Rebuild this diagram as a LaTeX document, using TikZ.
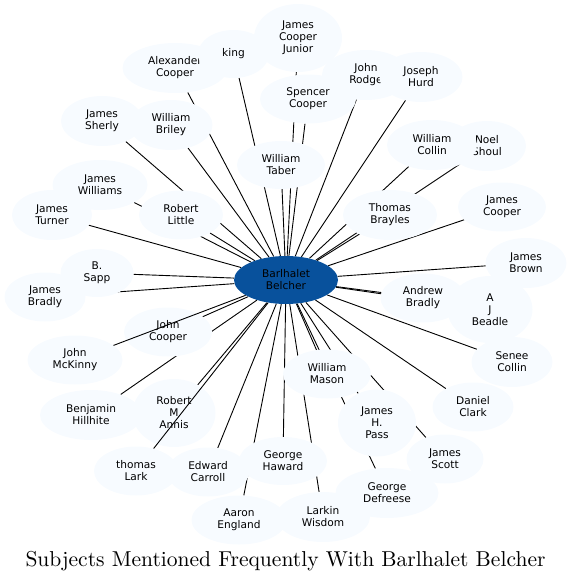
\documentclass[tikz,border=0pt]{standalone}
\usepackage{fontspec}
\newfontfamily\dvs{DejaVu Sans}
\usetikzlibrary{shapes.geometric}
\pgfdeclarelayer{background}
\pgfsetlayers{background,main}
\definecolor{paleb}{HTML}{F7FBFF}
\definecolor{darkb}{HTML}{08519C}
\begin{document}
\begin{tikzpicture}[x=1pt,y=-1pt,
  nd/.style 2 args={ellipse, fill=paleb, inner sep=0pt, align=center,
    font=\dvs\fontsize{10.6}{12}\selectfont, minimum width=#1pt, minimum height=#2pt},
  hub/.style={ellipse, fill=darkb, inner sep=0pt, align=center,
    font=\dvs\fontsize{10.6}{12}\selectfont, minimum width=104pt, minimum height=48pt},
  ln/.style={line width=0.9pt, black}]
\useasboundingbox (0,0) rectangle (571,581);
% nodes
\node[hub] (c) at (286,280) {Barlhalet\\Belcher};
\node[nd={88}{68}] (jcj) at (298,38) {James\\Cooper\\Junior};
\node[nd={105}{50}] (alc) at (175,68) {Alexander\\Cooper};
\node[nd={71}{48}] (king) at (233.5,54) {king};
\node[nd={96}{49}] (spc) at (308,99) {Spencer\\Cooper};
\node[nd={88}{50}] (jro) at (366,75) {John\\Rodge};
\node[nd={83}{50}] (jhu) at (421,77) {Joseph\\Hurd};
\node[nd={82}{50}] (jsh) at (102,121) {James\\Sherly};
\node[nd={83}{50}] (wbr) at (171,125) {William\\Briley};
\node[nd={88}{48}] (wta) at (281,165) {William\\Taber};
\node[nd={78}{50}] (nsh) at (487,146) {Noel\\Shoul};
\node[nd={90}{50}] (wco) at (432,145) {William\\Collin};
\node[nd={95}{50}] (jwi) at (100,185) {James\\Williams};
\node[nd={80}{50}] (jtu) at (52,215) {James\\Turner};
\node[nd={84}{49}] (rli) at (181,215) {Robert\\Little};
\node[nd={94}{50}] (tbr) at (390,215) {Thomas\\Brayles};
\node[nd={88}{49}] (jco) at (502,207) {James\\Cooper};
\node[nd={81}{50}] (jbr) at (526,263) {James\\Brown};
\node[nd={73}{48}] (bsa) at (97,273) {B.\\Sapp};
\node[nd={81}{49}] (jbd) at (45,297) {James\\Bradly};
\node[nd={85}{67}] (ajb) at (490,309.5) {A\\J\\Beadle};
\node[nd={85}{49}] (abr) at (423,298) {Andrew\\Bradly};
\node[nd={88}{49}] (joc) at (168,332) {John\\Cooper};
\node[nd={95}{49}] (jmk) at (75,360) {John\\McKinny};
\node[nd={81}{50}] (sco) at (512,362) {Senee\\Collin};
\node[nd={88}{49}] (wma) at (327,374) {William\\Mason};
\node[nd={102}{50}] (bhi) at (91,415) {Benjamin\\Hillhite};
\node[nd={83}{68}] (rma) at (174,413) {Robert\\M\\Annis};
\node[nd={78}{67}] (jhp) at (377,423) {James\\H.\\Pass};
\node[nd={81}{49}] (dcl) at (473,407) {Daniel\\Clark};
\node[nd={77}{49}] (jsc) at (445,459) {James\\Scott};
\node[nd={84}{49}] (tla) at (136,471) {thomas\\Lark};
\node[nd={82}{49}] (eca) at (208,472) {Edward\\Carroll};
\node[nd={88}{48}] (gha) at (283,461) {George\\Haward};
\node[nd={103}{50}] (gde) at (387,493) {George\\Defreese};
\node[nd={95}{49}] (aen) at (239,520) {Aaron\\England};
\node[nd={94}{50}] (lwi) at (323,517) {Larkin\\Wisdom};
% edges under the nodes
\begin{pgfonlayer}{background}
\foreach \t in {jcj,alc,king,spc,jro,jhu,jsh,wbr,wta,nsh,wco,jwi,jtu,rli,tbr,jco,jbr,bsa,jbd,ajb,abr,joc,sco,wma,bhi,rma,jhp,dcl,jsc,eca,gha,gde,aen,lwi}
  \draw[ln] (c) -- (\t);
\end{pgfonlayer}
% edges over the nodes
\draw[ln] (c) -- (jmk);
\draw[ln] (c) -- (tla);
% title
\node[anchor=base, inner sep=0pt] (title) at (285.5,566)
  {\scalebox{2.154}{\fontsize{10}{12}\selectfont Subjects Mentioned Frequently With Barlhalet Belcher}};
\end{tikzpicture}
\end{document}
